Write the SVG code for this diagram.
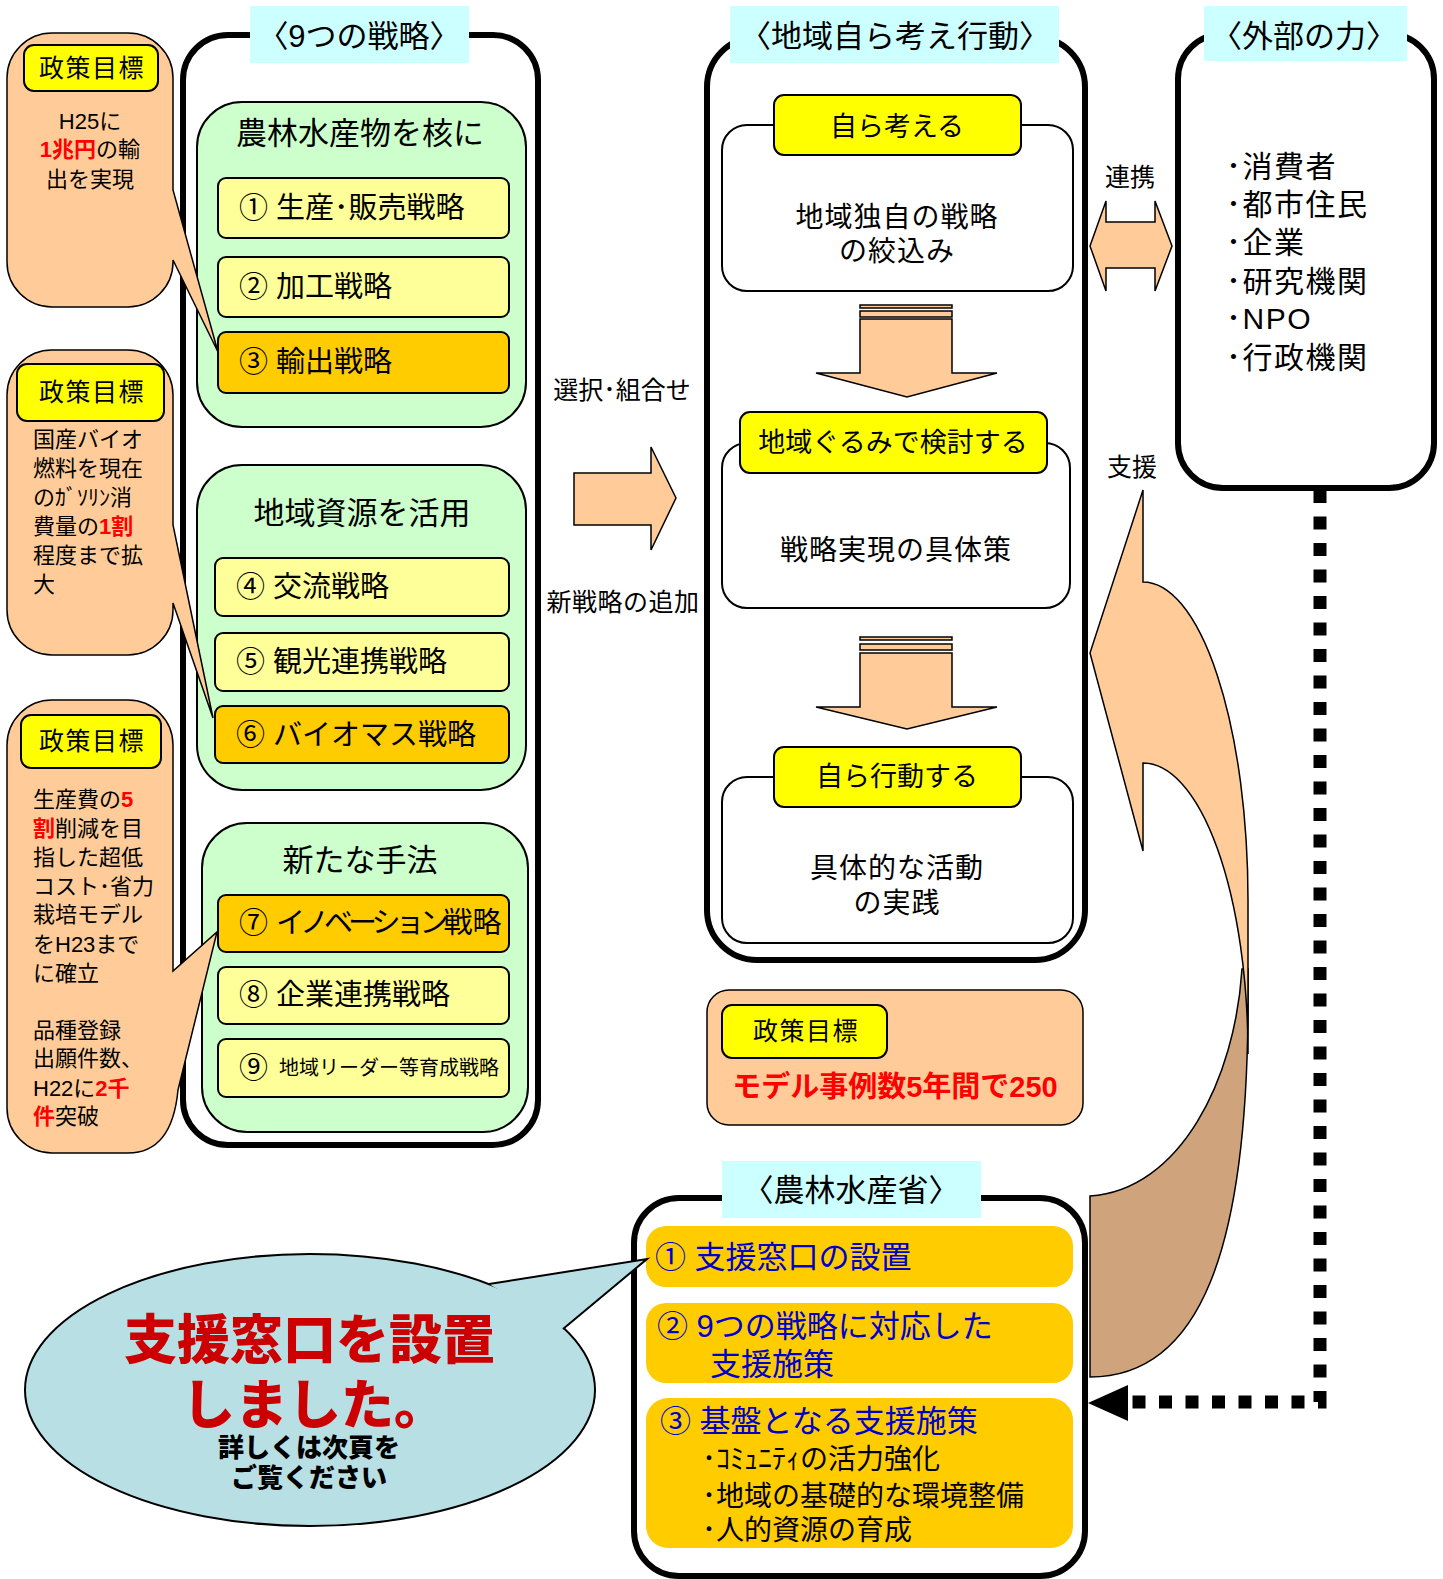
<svg xmlns="http://www.w3.org/2000/svg" width="1443" height="1579" viewBox="0 0 1443 1579">
<style>
text { font-family: "Liberation Sans", "Noto Sans CJK JP", sans-serif; dominant-baseline: central; fill: #000; }
.frame { fill: #fff; stroke: #000; stroke-width: 6; }
.cyan { fill: #CCFFFF; }
.peach { fill: #FFCC99; stroke: #000; stroke-width: 1.5; }
.ylabel { fill: #FFFF00; stroke: #000; stroke-width: 2; }
.green { fill: #CCFFCC; stroke: #000; stroke-width: 2; }
.item { fill: #FFFF99; stroke: #000; stroke-width: 2; }
.itemo { fill: #FFCC00; stroke: #000; stroke-width: 2; }
.sub { fill: #fff; stroke: #000; stroke-width: 2; }
.maff { fill: #FFCC00; }
.red { fill: #FF0000; font-weight: bold; }
.ttl { font-size: 31px; text-anchor: middle; }
.gt { font-size: 31px; text-anchor: middle; }
.it { font-size: 29px; }
.lbl { font-size: 25px; text-anchor: middle; letter-spacing: 1.5px; }
.cl { font-size: 22px; }
.body { font-size: 28px; text-anchor: middle; letter-spacing: 1px; }
.blue { fill: #0000CC; font-size: 31px; }
.mid { font-size: 25px; text-anchor: middle; }
</style>

<!-- 9 strategies frame -->
<g id="strategies">
  <rect class="frame" x="183" y="35" width="355" height="1110" rx="45"/>
  <rect class="cyan" x="250" y="6" width="219" height="57"/>
  <text class="ttl" x="359" y="36">〈9つの戦略〉</text>

  <g id="group1">
    <rect class="green" x="197" y="102" width="329" height="325" rx="45"/>
    <text class="gt" x="360" y="133">農林水産物を核に</text>
    <rect class="item" x="218" y="178" width="291" height="60" rx="8"/>
    <text class="it" x="239" y="208">① 生産･販売戦略</text>
    <rect class="item" x="218" y="257" width="291" height="60" rx="8"/>
    <text class="it" x="239" y="287">② 加工戦略</text>
    <rect class="itemo" x="218" y="332" width="291" height="61" rx="8"/>
    <text class="it" x="239" y="362">③ 輸出戦略</text>
  </g>

  <g id="group2">
    <rect class="green" x="197" y="465" width="329" height="325" rx="45"/>
    <text class="gt" x="362" y="513">地域資源を活用</text>
    <rect class="item" x="215" y="558" width="294" height="58" rx="8"/>
    <text class="it" x="236" y="587">④ 交流戦略</text>
    <rect class="item" x="215" y="633" width="294" height="58" rx="8"/>
    <text class="it" x="236" y="662">⑤ 観光連携戦略</text>
    <rect class="itemo" x="215" y="706" width="294" height="57" rx="8"/>
    <text class="it" x="236" y="735">⑥ バイオマス戦略</text>
  </g>

  <g id="group3">
    <rect class="green" x="202" y="823" width="326" height="309" rx="45"/>
    <text class="gt" x="360" y="860">新たな手法</text>
    <rect class="itemo" x="218" y="895" width="291" height="57" rx="8"/>
    <text class="it" x="239" y="923">⑦ <tspan x="276" letter-spacing="-5">イノベーション</tspan><tspan>戦略</tspan></text>
    <rect class="item" x="218" y="967" width="291" height="57" rx="8"/>
    <text class="it" x="239" y="995">⑧ 企業連携戦略</text>
    <rect class="item" x="218" y="1039" width="291" height="58" rx="8"/>
    <text class="it" x="239" y="1068">⑨ <tspan x="279" font-size="20">地域リーダー等育成戦略</tspan></text>
  </g>
</g>

<!-- Left callouts (drawn over the frame) -->
<g id="callout1">
  <path class="peach" d="M52,33 H128 A45,45 0 0 1 173,78 V190 L218,352 L173,260 V262 A45,45 0 0 1 128,307 H52 A45,45 0 0 1 7,262 V78 A45,45 0 0 1 52,33 Z"/>
  <rect class="ylabel" x="24" y="45" width="134" height="46" rx="10"/>
  <text class="lbl" x="92" y="68">政策目標</text>
  <text class="cl" x="90" y="121" text-anchor="middle">H25に</text>
  <text class="cl" x="90" y="149" text-anchor="middle"><tspan class="red">1兆円</tspan>の輸</text>
  <text class="cl" x="90" y="179" text-anchor="middle">出を実現</text>
</g>

<g id="callout2">
  <path class="peach" d="M52,350 H128 A45,45 0 0 1 173,395 V525 L213,718 L173,603 V610 A45,45 0 0 1 128,655 H52 A45,45 0 0 1 7,610 V395 A45,45 0 0 1 52,350 Z"/>
  <rect class="ylabel" x="17" y="364" width="147" height="57" rx="10"/>
  <text class="lbl" x="92" y="392">政策目標</text>
  <text class="cl" x="33" y="439">国産バイオ</text>
  <text class="cl" x="33" y="468">燃料を現在</text>
  <text class="cl" x="33" y="497">のｶﾞｿﾘﾝ消</text>
  <text class="cl" x="33" y="526">費量の<tspan class="red">1割</tspan></text>
  <text class="cl" x="33" y="555">程度まで拡</text>
  <text class="cl" x="33" y="584">大</text>
</g>

<g id="callout3">
  <path class="peach" d="M52,700 H128 A45,45 0 0 1 173,745 V971 L217,932 L178,1090 Q172,1153 128,1153 H52 A45,45 0 0 1 7,1108 V745 A45,45 0 0 1 52,700 Z"/>
  <rect class="ylabel" x="21" y="715" width="140" height="53" rx="10"/>
  <text class="lbl" x="92" y="741">政策目標</text>
  <text class="cl" x="33" y="799">生産費の<tspan class="red">5</tspan></text>
  <text class="cl" x="33" y="828"><tspan class="red">割</tspan>削減を目</text>
  <text class="cl" x="33" y="857">指した超低</text>
  <text class="cl" x="33" y="886">コスト･省力</text>
  <text class="cl" x="33" y="914">栽培モデル</text>
  <text class="cl" x="33" y="944">をH23まで</text>
  <text class="cl" x="33" y="973">に確立</text>
  <text class="cl" x="33" y="1030">品種登録</text>
  <text class="cl" x="33" y="1058">出願件数、</text>
  <text class="cl" x="33" y="1088">H22に<tspan class="red">2千</tspan></text>
  <text class="cl" x="33" y="1116"><tspan class="red">件</tspan>突破</text>
</g>

<!-- Region frame -->
<g id="region">
  <rect class="frame" x="707" y="37" width="378" height="923" rx="50"/>
  <rect class="cyan" x="730" y="6" width="329" height="57"/>
  <text class="ttl" x="895" y="36">〈地域自ら考え行動〉</text>

  <g id="think">
    <rect class="sub" x="722" y="125" width="351" height="166" rx="25"/>
    <rect class="ylabel" x="774" y="95" width="247" height="60" rx="10"/>
    <text x="897" y="127" font-size="27" text-anchor="middle">自ら考える</text>
    <text class="body" x="897" y="217">地域独自の戦略</text>
    <text class="body" x="897" y="251">の絞込み</text>
  </g>

  <g id="discuss">
    <rect class="sub" x="722" y="443" width="348" height="165" rx="25"/>
    <rect class="ylabel" x="740" y="412" width="307" height="61" rx="10"/>
    <text x="893" y="443" font-size="27" text-anchor="middle">地域ぐるみで検討する</text>
    <text class="body" x="896" y="550">戦略実現の具体策</text>
  </g>

  <g id="act">
    <rect class="sub" x="722" y="777" width="351" height="166" rx="25"/>
    <rect class="ylabel" x="774" y="747" width="247" height="60" rx="10"/>
    <text x="897" y="777" font-size="27" text-anchor="middle">自ら行動する</text>
    <text class="body" x="897" y="868">具体的な活動</text>
    <text class="body" x="897" y="903">の実践</text>
  </g>
</g>

<!-- Policy target box -->
<g id="policy">
  <rect class="peach" x="707" y="990" width="376" height="135" rx="22"/>
  <rect class="ylabel" x="722" y="1005" width="165" height="53" rx="10"/>
  <text class="lbl" x="806" y="1031">政策目標</text>
  <text class="red" x="895" y="1087" font-size="29" text-anchor="middle">モデル事例数5年間で250</text>
</g>

<!-- External power frame -->
<g id="external">
  <rect class="frame" x="1178" y="34" width="256" height="454" rx="45"/>
  <rect class="cyan" x="1204" y="6" width="203" height="55"/>
  <text class="ttl" x="1304" y="36">〈外部の力〉</text>
  <text x="1226" y="166" font-size="30" letter-spacing="1.5">･消費者</text>
  <text x="1226" y="204" font-size="30" letter-spacing="1.5">･都市住民</text>
  <text x="1226" y="242" font-size="30" letter-spacing="1.5">･企業</text>
  <text x="1226" y="281" font-size="30" letter-spacing="1.5">･研究機関</text>
  <text x="1226" y="318" font-size="30" letter-spacing="1.5">･NPO</text>
  <text x="1226" y="357" font-size="30" letter-spacing="1.5">･行政機関</text>
</g>

<!-- MAFF frame -->
<g id="maff">
  <rect class="frame" x="634" y="1198" width="451" height="378" rx="45"/>
  <rect class="cyan" x="722" y="1161" width="259" height="57"/>
  <text class="ttl" x="851" y="1190">〈農林水産省〉</text>
  <rect class="maff" x="646" y="1226" width="427" height="61" rx="20"/>
  <text class="blue" x="655" y="1257">① 支援窓口の設置</text>
  <rect class="maff" x="646" y="1303" width="427" height="80" rx="20"/>
  <text class="blue" x="657" y="1326">② 9つの戦略に対応した</text>
  <text class="blue" x="710" y="1364">支援施策</text>
  <rect class="maff" x="646" y="1398" width="427" height="150" rx="22"/>
  <text class="blue" x="660" y="1421">③ 基盤となる支援施策</text>
  <text x="702" y="1459" font-size="28">･ｺﾐｭﾆﾃｨの活力強化</text>
  <text x="702" y="1496" font-size="28">･地域の基礎的な環境整備</text>
  <text x="702" y="1530" font-size="28">･人的資源の育成</text>
</g>

<!-- Speech bubble -->
<g id="bubble">
  <ellipse cx="310" cy="1390" rx="285" ry="136" fill="#B8DFE3" stroke="#000" stroke-width="2"/>
  <path d="M489,1284 L647,1259 L563,1329" fill="#B8DFE3" stroke="#000" stroke-width="2"/>
  <text x="124" y="1340" font-size="53" font-weight="900" style="fill:#CC0000">支援窓口を設置</text>
  <text x="182" y="1405" font-size="53" font-weight="900" style="fill:#CC0000">しました。</text>
  <text x="309" y="1448" font-size="26" font-weight="900" text-anchor="middle">詳しくは次頁を</text>
  <text x="309" y="1478" font-size="26" font-weight="900" text-anchor="middle">ご覧ください</text>
</g>

<!-- Connectors -->
<g id="connectors">
  <g id="select-arrow">
    <path class="peach" d="M574,473 H651 V447 L676,498 L651,550 V525 H574 Z"/>
    <text class="mid" x="622" y="390">選択･組合せ</text>
    <text class="mid" x="623" y="602" letter-spacing="0.5">新戦略の追加</text>
  </g>
  <g id="down-arrow1">
    <rect class="peach" x="860" y="305" width="92" height="3" stroke-width="1"/>
    <rect class="peach" x="860" y="311" width="92" height="6" stroke-width="1"/>
    <path class="peach" d="M860,319 H952 V373 H997 L907,397 L816,373 H860 Z"/>
  </g>
  <g id="down-arrow2">
    <rect class="peach" x="860" y="637" width="92" height="3" stroke-width="1"/>
    <rect class="peach" x="860" y="644" width="92" height="6" stroke-width="1"/>
    <path class="peach" d="M860,653 H952 V707 H997 L907,729 L816,707 H860 Z"/>
  </g>
  <g id="link-arrow">
    <text class="mid" x="1130" y="177">連携</text>
    <path class="peach" d="M1090,246 L1106,201 V222 H1155 V201 L1172,246 L1155,291 V268 H1106 V291 Z"/>
  </g>
  <g id="support-arrow">
    <text class="mid" x="1132" y="467">支援</text>
    <path d="M1090,1196 C1180,1190 1235,1080 1242,969 L1248,969 L1248,1000 C1248,1250 1200,1377 1090,1377 Z" fill="#CFA47C" stroke="#000" stroke-width="1.5"/>
    <path class="peach" d="M1143,490 L1143,582 A105,318 0 0 1 1248,900 L1248,1054 A105,291 0 0 0 1143,763 L1143,851 L1090,653 Z"/>
  </g>
  <g id="dotted-arrow">
    <path d="M1320,490 V1402 H1130" fill="none" stroke="#000" stroke-width="13" stroke-dasharray="13 13.5"/>
    <polygon points="1088,1403 1128,1385 1128,1421" fill="#000"/>
  </g>
</g>
</svg>
